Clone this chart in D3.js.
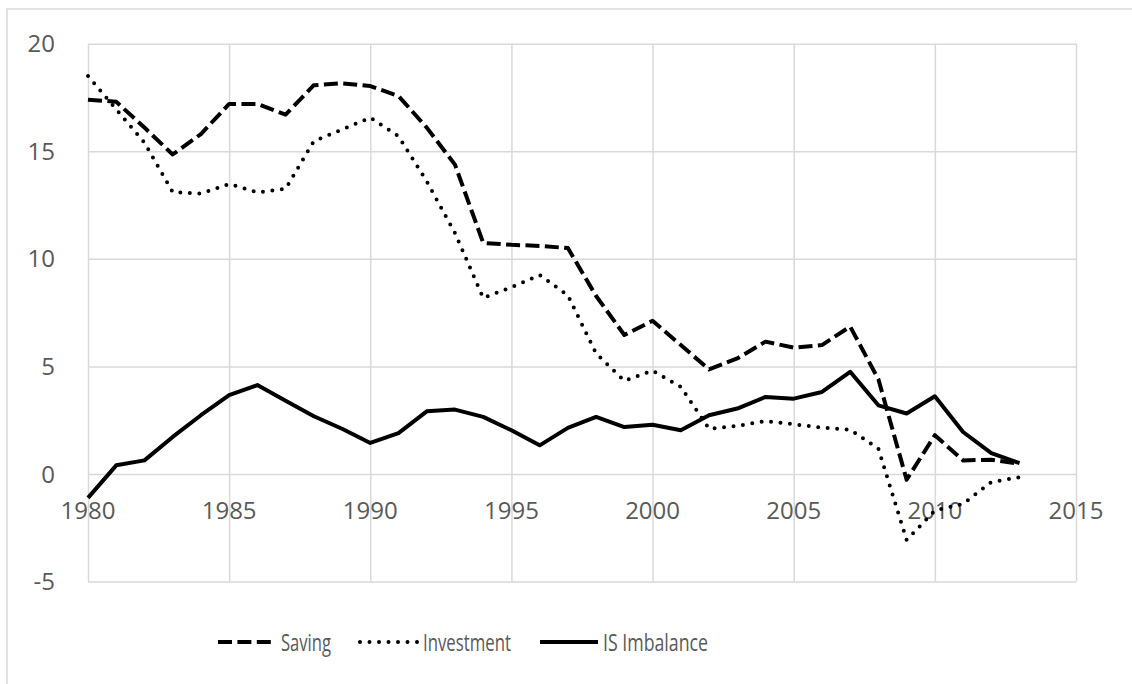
<!DOCTYPE html>
<html>
<head>
<meta charset="utf-8">
<script src="https://cdn.jsdelivr.net/npm/d3@7"></script>
<style>
  body { margin: 0; background: #fff; }
  text { font-family: "Open Sans", "Liberation Sans", sans-serif; fill: #595959; }
</style>
</head>
<body>
<svg id="chart"></svg>
<script>
// years on the x axis
var years = d3.range(1980, 2014);

// series (% of GDP)
var saving = [17.4, 17.3, 16.1, 14.85, 15.8, 17.2, 17.2, 16.7, 18.07, 18.16,
  18.03, 17.57, 16.1, 14.38, 10.74, 10.65, 10.6, 10.5, 8.27, 6.46,
  7.12, 5.99, 4.86, 5.37, 6.15, 5.87, 5.99, 6.85, 4.4, -0.27,
  1.8, 0.63, 0.66, 0.47];
var investment = [18.5, 16.95, 15.4, 13.1, 13.03, 13.48, 13.09, 13.25, 15.47, 16.01,
  16.56, 15.7, 13.6, 11.2, 8.18, 8.68, 9.25, 8.3, 5.6, 4.33,
  4.8, 4.05, 2.1, 2.23, 2.46, 2.31, 2.15, 2.06, 1.17, -3.07,
  -1.7, -1.39, -0.38, -0.15];
var imbalance = [-1.11, 0.4, 0.63, 1.72, 2.73, 3.66, 4.13, 3.4, 2.68, 2.1,
  1.44, 1.9, 2.91, 2.99, 2.65, 2.03, 1.33, 2.14, 2.65, 2.18,
  2.29, 2.03, 2.73, 3.04, 3.58, 3.5, 3.81, 4.75, 3.19, 2.81,
  3.61, 1.95, 0.97, 0.5];

var xTicks = [1980, 1985, 1990, 1995, 2000, 2005, 2010, 2015];
var yTicks = [-5, 0, 5, 10, 15, 20];

var seriesNames = ["Saving", "Investment", "IS Imbalance"];
var seriesValues = [saving, investment, imbalance];

var w = 1132, h = 684;
var svg = d3.select("#chart").attr("width", w).attr("height", h);

// line styles per series
var styles = [
  { dash: "14 5.4", cap: "butt", width: 4 },
  { dash: "0 9.5", cap: "round", width: 4 },
  { dash: null, cap: "butt", width: 4 }
];
var legendWidths = [50, 88, 105];

// chart frame (runs off the right and bottom of the picture)
svg.append("rect")
  .attr("x", 7).attr("y", 9)
  .attr("width", w + 20).attr("height", h + 20)
  .attr("fill", "none")
  .attr("stroke", "#d9d9d9")
  .attr("stroke-width", 1.5);

var x = d3.scaleLinear().domain([1980, 2015]).range([88, 1076]);
var y = d3.scaleLinear().domain([-5, 20]).range([581.5, 43.7]);

//Gridlines, drawn with the axis generators.
svg.append("g")
  .attr("transform", "translate(0," + y(-5) + ")")
  .call(d3.axisBottom(x).tickValues(xTicks).tickSize(-(y(-5) - y(20))).tickFormat(""))
  .call(g => g.select(".domain").remove())
  .call(g => g.selectAll("line").attr("stroke", "#d9d9d9").attr("stroke-width", 1.5));

svg.append("g")
  .attr("transform", "translate(" + x(1980) + ",0)")
  .call(d3.axisLeft(y).tickValues(yTicks).tickSize(-(x(2015) - x(1980))).tickFormat(""))
  .call(g => g.select(".domain").remove())
  .call(g => g.selectAll("line").attr("stroke", "#d9d9d9").attr("stroke-width", 1.5));

//Tick labels. The year labels hang just under the zero line.
svg.append("g").selectAll("text")
  .data(yTicks)
  .enter().append("text")
    .attr("x", 55)
    .attr("y", d => y(d))
    .attr("dy", "0.36em")
    .attr("text-anchor", "end")
    .attr("font-size", 24)
    .text(d => d);

svg.append("g").selectAll("text")
  .data(xTicks)
  .enter().append("text")
    .attr("x", d => x(d))
    .attr("y", 519)
    .attr("text-anchor", "middle")
    .attr("font-size", 24)
    .text(d => d);

//The three series.
var line = d3.line()
  .x((d, i) => x(years[i]))
  .y(d => y(d));

svg.append("g").selectAll("path")
  .data(seriesValues)
  .enter().append("path")
    .attr("d", d => line(d))
    .attr("fill", "none")
    .attr("stroke", "#000")
    .attr("stroke-width", (d, i) => styles[i].width)
    .attr("stroke-linejoin", "round")
    .attr("stroke-linecap", (d, i) => styles[i].cap)
    .attr("stroke-dasharray", (d, i) => styles[i].dash);

//Legend along the bottom.
var legendX = [218, 360, 540];
var legend = svg.append("g").selectAll("g")
  .data(seriesNames)
  .enter().append("g");

legend.append("line")
  .attr("x1", (d, i) => legendX[i])
  .attr("x2", (d, i) => legendX[i] + 58)
  .attr("y1", 642).attr("y2", 642)
  .attr("stroke", "#000")
  .attr("stroke-width", (d, i) => styles[i].width)
  .attr("stroke-linecap", (d, i) => styles[i].cap)
  .attr("stroke-dasharray", (d, i) => styles[i].dash);

legend.append("text")
  .attr("x", (d, i) => legendX[i] + 63)
  .attr("y", 651)
  .attr("font-size", 24)
  .attr("textLength", (d, i) => legendWidths[i])
  .attr("lengthAdjust", "spacingAndGlyphs")
  .text(d => d);
</script>
</body>
</html>
